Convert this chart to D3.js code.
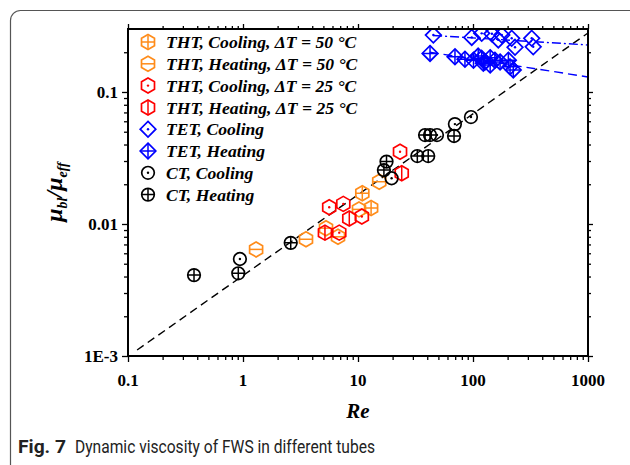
<!DOCTYPE html>
<html>
<head>
<meta charset="utf-8">
<script src="https://cdn.jsdelivr.net/npm/d3@7"></script>
<style>
  html, body { margin: 0; padding: 0; background: #fff; }
  svg { display: block; }
</style>
</head>
<body>
<svg id="chart" width="630" height="465"></svg>
<script>
// ---- data (Re, mu_bl / mu_eff) ----
const thtCooling50 = [[10.9, 0.0171], [13.0, 0.0132]];
const thtHeating50 = [[1.30, 0.00642], [3.53, 0.00766], [5.27, 0.0093], [6.7, 0.0080], [10.2, 0.0129], [15.3, 0.0209]];
const thtCooling25 = [[5.62, 0.0134], [7.45, 0.0142], [6.87, 0.0086], [10.8, 0.0114], [23.2, 0.0353]];
const thtHeating25 = [[5.16, 0.0086], [8.4, 0.0110], [24.0, 0.0242]];
const tetCooling = [[45.2, 0.270], [97.5, 0.259], [119, 0.278], [146, 0.276], [166, 0.248], [178, 0.270], [217, 0.255], [232, 0.218], [324, 0.255], [334, 0.220]];
const tetHeating = [[42.3, 0.196], [69.7, 0.185], [85.1, 0.177], [101, 0.174], [111, 0.187], [119, 0.180], [123, 0.165], [127, 0.169], [141, 0.182], [141, 0.160], [155, 0.174], [172, 0.169], [203, 0.174], [210, 0.155], [224, 0.147]];
const ctCooling = [[0.94, 0.00543], [19.6, 0.0222], [48.6, 0.0472], [69.6, 0.0571], [96, 0.0646]];
const ctHeating = [[0.375, 0.0041], [0.91, 0.00423], [2.6, 0.0072], [16.8, 0.0256], [17.7, 0.0297], [32.8, 0.0327], [40.8, 0.0327], [38.3, 0.0472], [42.3, 0.0472], [68.4, 0.0464]];

// trend lines (end points)
const ctTrend = [[0.12, 0.00111], [1000, 0.28]];
const tetCoolingTrend = [[45, 0.268], [1000, 0.227]];
const tetHeatingTrend = [[42, 0.2], [1000, 0.13]];

const xTicks = [0.1, 1, 10, 100, 1000];
const xTickLabels = ["0.1", "1", "10", "100", "1000"];
const yTicks = [0.001, 0.01, 0.1];
const yTickLabels = ["1E-3", "0.01", "0.1"];

const legendLabels = [
  "THT, Cooling, ΔT = 50 °C",
  "THT, Heating, ΔT = 50 °C",
  "THT, Cooling, ΔT = 25 °C",
  "THT, Heating, ΔT = 25 °C",
  "TET, Cooling",
  "TET, Heating",
  "CT, Cooling",
  "CT, Heating"
];

// ---- layout ----
const svg = d3.select("#chart");
const M = { left: 128, right: 588, top: 29, bottom: 356 };
const x = d3.scaleLog().domain([0.1, 1000]).range([M.left, M.right]);
const y = d3.scaleLog().domain([0.001, 0.3]).range([M.bottom, M.top]);

const ORANGE = "#ff8c1a", RED = "#ff0000", BLUE = "#0000ff", BLACK = "#000000";
const serif = "'Liberation Serif', 'Times New Roman', serif";

// figure frame
svg.append("rect")
  .attr("x", 10.5).attr("y", 10.5).attr("width", 630).attr("height", 480)
  .attr("rx", 10).attr("ry", 10)
  .attr("fill", "none").attr("stroke", "#555").attr("stroke-width", 1.2);

// ---- marker shapes ----
function hexPath(r) {
  const pts = d3.range(6).map(i => {
    const a = (Math.PI / 180) * (-90 + 60 * i);
    return [r * Math.cos(a), r * Math.sin(a)];
  });
  return "M" + pts.map(p => p.join(",")).join("L") + "Z";
}
function diamondPath(r) {
  return `M0,${-r}L${r},0L0,${r}L${-r},0Z`;
}
function circlePath(r) {
  return `M${r},0A${r},${r} 0 1,1 ${-r},0A${r},${r} 0 1,1 ${r},0Z`;
}
function innerPath(kind, r) {
  if (kind === "cross") return `M${-r},0H${r}M0,${-r}V${r}`;
  if (kind === "hline") return `M${-r},0H${r}`;
  if (kind === "vline") return `M0,${-r}V${r}`;
  return "";
}

const seriesDefs = [
  { data: thtCooling50, shape: hexPath(7.5), inner: "cross", ir: 7.5 * 0.866, color: ORANGE },
  { data: thtHeating50, shape: hexPath(7.5), inner: "hline", ir: 7.5 * 0.866, color: ORANGE },
  { data: thtCooling25, shape: hexPath(7.5), inner: "dot", ir: 0, color: RED },
  { data: thtHeating25, shape: hexPath(7.5), inner: "vline", ir: 7.5, color: RED },
  { data: tetCooling, shape: diamondPath(7.8), inner: "dot", ir: 0, color: BLUE },
  { data: tetHeating, shape: diamondPath(7.8), inner: "cross", ir: 7.8, color: BLUE },
  { data: ctCooling, shape: circlePath(6.3), inner: "dot", ir: 0, color: BLACK },
  { data: ctHeating, shape: circlePath(6.3), inner: "cross", ir: 6.3, color: BLACK }
];

function drawMarker(g, def) {
  g.append("path").attr("d", def.shape)
    .attr("fill", "none").attr("stroke", def.color).attr("stroke-width", 1.7);
  if (def.inner === "dot") {
    g.append("circle").attr("r", 1.2).attr("fill", def.color);
  } else {
    g.append("path").attr("d", innerPath(def.inner, def.ir))
      .attr("fill", "none").attr("stroke", def.color).attr("stroke-width", 1.5);
  }
}

// ---- plot area ----
svg.append("clipPath").attr("id", "plotClip")
  .append("rect").attr("x", M.left).attr("y", M.top)
  .attr("width", M.right - M.left).attr("height", M.bottom - M.top);

const plot = svg.append("g").attr("clip-path", "url(#plotClip)");
const line = d3.line().x(d => x(d[0])).y(d => y(d[1]));

plot.append("path").datum(ctTrend).attr("d", line)
  .attr("fill", "none").attr("stroke", BLACK).attr("stroke-width", 1.4)
  .attr("stroke-dasharray", "8,5");
plot.append("path").datum(tetCoolingTrend).attr("d", line)
  .attr("fill", "none").attr("stroke", BLUE).attr("stroke-width", 1.4)
  .attr("stroke-dasharray", "9,3,2,3");
plot.append("path").datum(tetHeatingTrend).attr("d", line)
  .attr("fill", "none").attr("stroke", BLUE).attr("stroke-width", 1.4)
  .attr("stroke-dasharray", "9,5");

seriesDefs.forEach(def => {
  plot.append("g").selectAll("g").data(def.data).join("g")
    .attr("transform", d => `translate(${x(d[0])},${y(d[1])})`)
    .each(function () { drawMarker(d3.select(this), def); });
});

// ---- axes ----
const majorX = xTicks;
const minorX = [];
[0.1, 1, 10, 100].forEach(b => { for (let k = 2; k <= 9; k++) minorX.push(b * k); });
const minorY = [];
[0.001, 0.01].forEach(b => { for (let k = 2; k <= 9; k++) minorY.push(b * k); });
minorY.push(0.2);

function styleAxis(g) {
  g.selectAll("path.domain").remove();
  g.selectAll("line").attr("stroke", "#000").attr("stroke-width", 1.3);
  g.selectAll("text").remove();
}

// bottom
svg.append("g").attr("transform", `translate(0,${M.bottom})`)
  .call(d3.axisBottom(x).tickValues(majorX).tickSize(6).tickFormat(""))
  .call(styleAxis);
svg.append("g").attr("transform", `translate(0,${M.bottom})`)
  .call(d3.axisBottom(x).tickValues(minorX).tickSize(4).tickFormat(""))
  .call(styleAxis);
// top
svg.append("g").attr("transform", `translate(0,${M.top})`)
  .call(d3.axisTop(x).tickValues(majorX).tickSize(5).tickFormat(""))
  .call(styleAxis);
svg.append("g").attr("transform", `translate(0,${M.top})`)
  .call(d3.axisTop(x).tickValues(minorX).tickSize(3).tickFormat(""))
  .call(styleAxis);
// left
svg.append("g").attr("transform", `translate(${M.left},0)`)
  .call(d3.axisLeft(y).tickValues(yTicks).tickSize(6).tickFormat(""))
  .call(styleAxis);
svg.append("g").attr("transform", `translate(${M.left},0)`)
  .call(d3.axisLeft(y).tickValues(minorY).tickSize(4).tickFormat(""))
  .call(styleAxis);
// right
svg.append("g").attr("transform", `translate(${M.right},0)`)
  .call(d3.axisRight(y).tickValues(yTicks).tickSize(5).tickFormat(""))
  .call(styleAxis);
svg.append("g").attr("transform", `translate(${M.right},0)`)
  .call(d3.axisRight(y).tickValues(minorY).tickSize(3).tickFormat(""))
  .call(styleAxis);

// frame of the plot
svg.append("rect")
  .attr("x", M.left).attr("y", M.top)
  .attr("width", M.right - M.left).attr("height", M.bottom - M.top)
  .attr("fill", "none").attr("stroke", "#000").attr("stroke-width", 2);

// tick labels
svg.append("g").selectAll("text").data(xTicks).join("text")
  .attr("x", d => x(d)).attr("y", M.bottom + 30)
  .attr("text-anchor", "middle")
  .attr("font-family", serif).attr("font-weight", "bold").attr("font-size", 17)
  .text((d, i) => xTickLabels[i]);
svg.append("g").selectAll("text").data(yTicks).join("text")
  .attr("x", M.left - 10).attr("y", d => y(d)).attr("dy", "0.35em")
  .attr("text-anchor", "end")
  .attr("font-family", serif).attr("font-weight", "bold").attr("font-size", 17)
  .text((d, i) => yTickLabels[i]);

// axis titles
svg.append("text")
  .attr("x", x(10)).attr("y", 418)
  .attr("text-anchor", "middle")
  .attr("font-family", serif).attr("font-weight", "bold").attr("font-style", "italic")
  .attr("font-size", 21)
  .text("Re");

const yTitle = svg.append("text")
  .attr("transform", "translate(62,192) rotate(-90)")
  .attr("text-anchor", "middle")
  .attr("font-family", serif).attr("font-weight", "bold").attr("font-style", "italic")
  .attr("font-size", 24);
yTitle.append("tspan").text("μ");
yTitle.append("tspan").attr("font-size", 14).attr("dy", 5).text("bl");
yTitle.append("tspan").attr("dy", -5).text("/μ");
yTitle.append("tspan").attr("font-size", 14).attr("dy", 5).text("eff");

// ---- legend ----
const legend = svg.append("g");
legendLabels.forEach((label, i) => {
  const cy = 42 + i * 21.8;
  const g = legend.append("g").attr("transform", `translate(148,${cy})`);
  drawMarker(g, seriesDefs[i]);
  legend.append("text")
    .attr("x", 166).attr("y", cy).attr("dy", "0.35em")
    .attr("font-family", serif).attr("font-weight", "bold").attr("font-style", "italic")
    .attr("font-size", 17.6)
    .text(label);
});

// ---- caption ----
const capFont = "Roboto, 'Open Sans', sans-serif";
svg.append("text")
  .attr("x", 18).attr("y", 453)
  .attr("font-family", capFont).attr("font-weight", "bold")
  .attr("font-size", 18).attr("fill", "#222")
  .attr("textLength", 48).attr("lengthAdjust", "spacingAndGlyphs")
  .text("Fig. 7");
svg.append("text")
  .attr("x", 75).attr("y", 453)
  .attr("font-family", capFont)
  .attr("font-size", 17.5).attr("fill", "#222")
  .attr("textLength", 300).attr("lengthAdjust", "spacingAndGlyphs")
  .text("Dynamic viscosity of FWS in different tubes");
</script>
</body>
</html>
